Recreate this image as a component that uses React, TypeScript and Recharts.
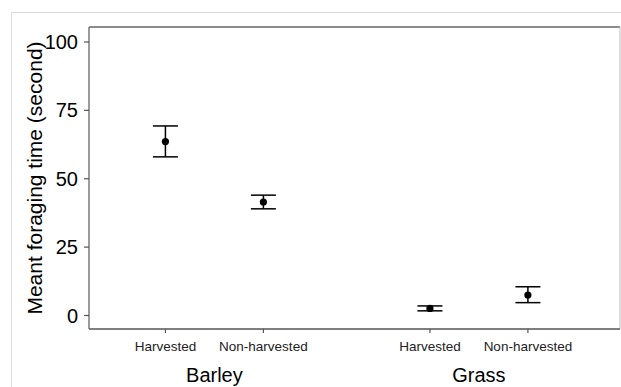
import React from "react";
import {
  ScatterChart,
  Scatter,
  XAxis,
  YAxis,
  ErrorBar,
  ReferenceLine,
} from "recharts";

// Foraging time per field type / harvest state, mean with error bars.
const categories = ["Harvested", "Non-harvested", "Harvested", "Non-harvested"];
const slots = [1, 2, 3.7, 4.7];
const means = [63.6, 41.5, 2.6, 7.5];
const lows = [58.0, 39.0, 1.7, 4.7];
const highs = [69.3, 44.0, 3.5, 10.5];

const groups = ["Barley", "Grass"];
const groupCenters = [1.5, 4.2];

const yTicks = [0, 25, 50, 75, 100];

const FONT = '"Liberation Sans", Arial, Helvetica, sans-serif';
const X_DOMAIN: [number, number] = [0.22, 5.64];
const Y_DOMAIN: [number, number] = [-4.94, 105.48];

const data = slots.map((x, i) => ({
  x,
  y: means[i],
  err: [means[i] - lows[i], highs[i] - means[i]],
}));

// invisible anchors so the group-label axis gets drawn
const groupData = groupCenters.map((x) => ({ x, y: 0 }));

const Dot = (props: any) => (
  <circle cx={props.cx} cy={props.cy} r={3.6} fill="#000" />
);

const Nothing = () => <g />;

const YTitle = (props: any) => {
  const vb = props.viewBox || { x: 0, y: 27, width: 89, height: 302 };
  const cx = vb.x + 41.5;
  const cy = vb.y + vb.height / 2;
  return (
    <text
      x={cx}
      y={cy}
      transform={`rotate(-90, ${cx}, ${cy})`}
      textAnchor="middle"
      fontSize={21}
      fill="#000"
      fontFamily={FONT}
    >
      Meant foraging time (second)
    </text>
  );
};

export default function App() {
  return (
    <div
      style={{
        position: "absolute",
        left: 0,
        top: 0,
        width: 621,
        height: 387,
        background: "#fff",
        fontFamily: FONT,
        overflow: "hidden",
      }}
    >
      {/* light outer frame */}
      <div
        style={{
          position: "absolute",
          left: 11,
          top: 12,
          width: 620,
          height: 400,
          borderTop: "1.5px solid #dcdcdc",
          borderLeft: "1.5px solid #dcdcdc",
        }}
      />
      <div style={{ position: "absolute", left: 0, top: 0 }}>
        <ScatterChart
          width={621}
          height={387}
          margin={{ top: 27, right: 1, bottom: 0, left: 0 }}
        >
          <XAxis
            xAxisId={0}
            type="number"
            dataKey="x"
            domain={X_DOMAIN}
            allowDataOverflow
            ticks={slots}
            interval={0}
            tickFormatter={(v: number) => categories[slots.indexOf(v)] ?? ""}
            height={25}
            tickSize={4}
            tickMargin={8}
            tick={{ fontSize: 13.5, fill: "#222", fontFamily: FONT }}
            tickLine={{ stroke: "#555", strokeWidth: 1.2 }}
            axisLine={{ stroke: "#555", strokeWidth: 1.3 }}
          />
          <XAxis
            xAxisId="group"
            type="number"
            dataKey="x"
            domain={X_DOMAIN}
            allowDataOverflow
            ticks={groupCenters}
            interval={0}
            tickFormatter={(v: number) => groups[groupCenters.indexOf(v)] ?? ""}
            height={33}
            tickSize={0}
            tickMargin={14}
            tick={{ fontSize: 20, fill: "#000", fontFamily: FONT }}
            tickLine={false}
            axisLine={false}
          />
          <YAxis
            yAxisId={0}
            type="number"
            domain={Y_DOMAIN}
            allowDataOverflow
            ticks={yTicks}
            interval={0}
            width={89}
            tickSize={5}
            tickMargin={6}
            tick={{ fontSize: 20, fill: "#000", fontFamily: FONT }}
            tickLine={{ stroke: "#555", strokeWidth: 1.2 }}
            axisLine={{ stroke: "#666", strokeWidth: 1.3 }}
            label={<YTitle />}
          />
          {/* panel frame: top and right edges */}
          <ReferenceLine
            y={Y_DOMAIN[1]}
            stroke="#666"
            strokeWidth={1.5}
            ifOverflow="visible"
          />
          <ReferenceLine
            x={X_DOMAIN[1]}
            stroke="#c8c8c8"
            strokeWidth={1.2}
            ifOverflow="visible"
          />
          <Scatter
            xAxisId="group"
            data={groupData}
            dataKey="y"
            shape={<Nothing />}
            isAnimationActive={false}
          />
          <Scatter
            data={data}
            dataKey="y"
            fill="#000"
            shape={<Dot />}
            isAnimationActive={false}
          >
            <ErrorBar
              dataKey="err"
              direction="y"
              width={12.5}
              stroke="#000"
              strokeWidth={1.5}
              isAnimationActive={false}
            />
          </Scatter>
        </ScatterChart>
      </div>
    </div>
  );
}
